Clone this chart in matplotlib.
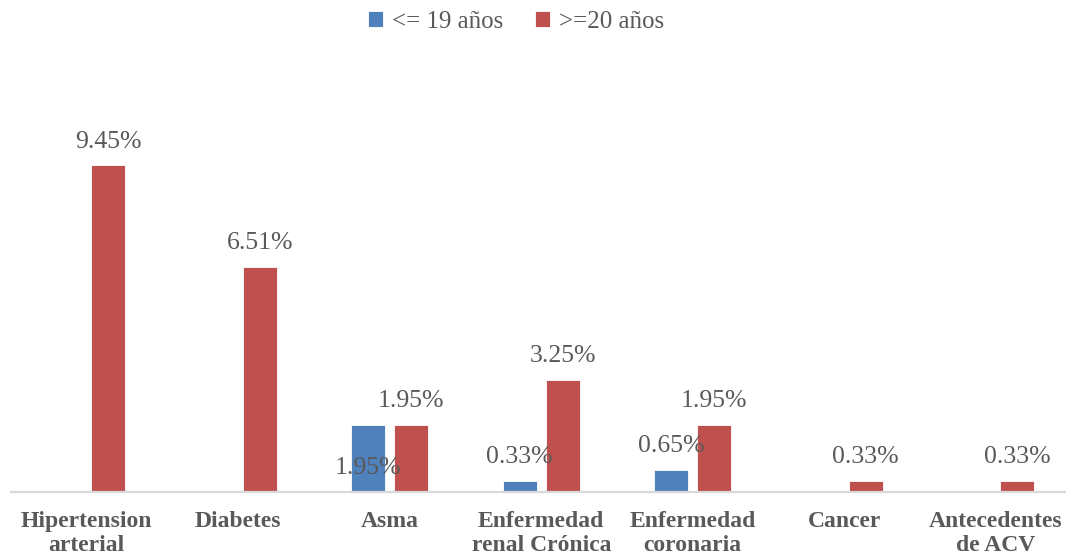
import matplotlib.pyplot as plt
import numpy as np

# enfermedades previas por grupo de edad (%)
categorias = ["Hipertension\narterial", "Diabetes", "Asma", "Enfermedad\nrenal Crónica",
              "Enfermedad\ncoronaria", "Cancer", "Antecedentes\nde ACV"]
menores = [0, 0, 1.95, 0.33, 0.65, 0, 0]
mayores = [9.45, 6.51, 1.95, 3.25, 1.95, 0.33, 0.33]
series = ["<= 19 años", ">=20 años"]

azul = "#4f81bd"
rojo = "#c0504d"
gris = "#595959"

plt.rcParams['font.family'] = ['Liberation Serif', 'DejaVu Serif']

fig = plt.figure(figsize=(10.66, 5.59), dpi=100)
ax = fig.add_axes([11 / 1066, 67 / 559, 1060.5 / 1066, 415 / 559])

x = np.arange(len(categorias))
ancho = 0.224
desp = 0.142
b1 = ax.bar(x - desp, menores, ancho, color=azul, edgecolor="white", linewidth=0.6, label=series[0])
b2 = ax.bar(x + desp, mayores, ancho, color=rojo, edgecolor="white", linewidth=0.6, label=series[1])

# etiquetas de valor (la de Asma <=19 queda en la base de la barra)
for i, v in enumerate(menores):
    if v == 0:
        continue
    y = 0 if categorias[i] == "Asma" else v
    ax.annotate(f"{v:.2f}%", (x[i] - desp, y), xytext=(0, 17), textcoords="offset points",
                ha="center", va="center", fontsize=18.5, color=gris)
for i, v in enumerate(mayores):
    ax.annotate(f"{v:.2f}%", (x[i] + desp, v), xytext=(0, 17), textcoords="offset points",
                ha="center", va="center", fontsize=18.5, color=gris)

ax.set_xlim(-0.5, len(categorias) - 0.5)
ax.set_ylim(0, 12)
ax.set_xticks(x)
ax.set_xticklabels(categorias, fontsize=17, fontweight="bold", color=gris, linespacing=1.2)
ax.tick_params(axis="x", length=0, pad=13.5)
ax.set_yticks([])
for s in ["top", "right", "left"]:
    ax.spines[s].set_visible(False)
ax.spines["bottom"].set_color("#d9d9d9")
ax.spines["bottom"].set_linewidth(1.6)

fig.legend(handles=[b1, b2], labels=series, loc="center", bbox_to_anchor=(516 / 1066, 1 - 22 / 559),
           ncol=2, frameon=False, fontsize=18, labelcolor=gris, handlelength=0.6, handleheight=0.6,
           handletextpad=0.35, columnspacing=1.3)

fig.savefig("out.png", dpi=100)
